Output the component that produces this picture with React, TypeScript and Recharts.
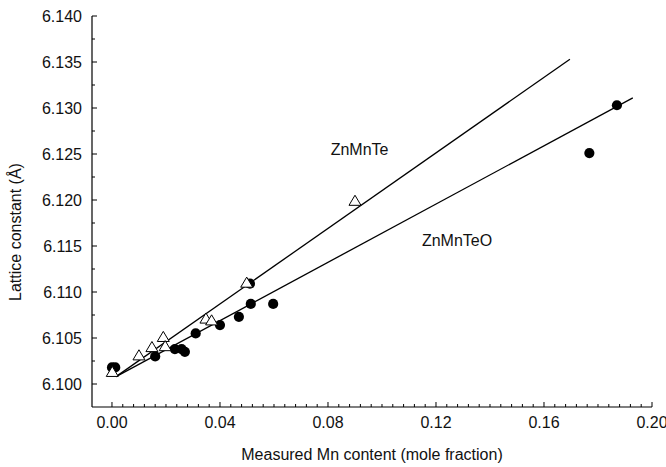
import { ScatterChart, Scatter, XAxis, YAxis, ReferenceDot, Label } from "recharts"

const FONT = '"Liberation Sans", Arial, Helvetica, sans-serif'
const INK = "#111"

// ZnMnTe samples (open triangles)
const teMn = [0.0001, 0.010, 0.0148, 0.019, 0.0197, 0.0348, 0.0369, 0.0499, 0.090]
const teLattice = [6.1013, 6.1031, 6.1040, 6.1051, 6.1041, 6.1071, 6.1069, 6.1110, 6.1199]

// ZnMnTeO samples (filled circles)
const teoMn = [0.0, 0.0012, 0.016, 0.0233, 0.0258, 0.027, 0.031, 0.040, 0.047, 0.0511, 0.0514, 0.0597, 0.1768, 0.187]
const teoLattice = [6.1018, 6.1018, 6.1030, 6.1038, 6.1038, 6.1035, 6.1055, 6.1064, 6.1073, 6.1109, 6.1087, 6.1087, 6.1251, 6.1303]

// linear fits (end points)
const teFitMn = [0.0015, 0.1696]
const teFitLattice = [6.1008, 6.1353]
const teoFitMn = [0.0015, 0.1929]
const teoFitLattice = [6.1008, 6.1311]

// curve labels
const labelText = ["ZnMnTe", "ZnMnTeO"]
const labelMn = [0.0917, 0.1278]
const labelLattice = [6.12555, 6.1156]

// ticks: minor every 0.004 / 0.0025, major every 0.04 / 0.005
const xTicks = Array.from({ length: 51 }, (_, i) => +(i * 0.004).toFixed(3))
const yTicks = Array.from({ length: 17 }, (_, i) => +(6.1 + i * 0.0025).toFixed(4))

const zip = (xs: number[], ys: number[]) => xs.map((x, i) => ({ x, y: ys[i] }))

const teData = zip(teMn, teLattice)
const teoData = zip(teoMn, teoLattice)
const teFit = zip(teFitMn, teFitLattice)
const teoFit = zip(teoFitMn, teoFitLattice)

const tickText = { fontSize: 16, fontFamily: FONT, fill: INK }

const BottomTick = (props: any) => {
  const { x, y, index, payload } = props
  const major = index % 10 === 0
  return (
    <g>
      <line x1={x} x2={x} y1={y} y2={y - (major ? 5 : 3)} stroke="#000" strokeWidth={1} />
      {major && (
        <text x={x} y={y + 21} textAnchor="middle" {...tickText}>
          {payload.value.toFixed(2)}
        </text>
      )}
    </g>
  )
}

const TopTick = (props: any) => {
  const { x, y, index } = props
  const major = index % 10 === 0
  return <line x1={x} x2={x} y1={y} y2={y + (major ? 5 : 3)} stroke="#000" strokeWidth={1} />
}

const LeftTick = (props: any) => {
  const { x, y, index, payload } = props
  const major = index % 2 === 0
  return (
    <g>
      <line x1={x} x2={x + (major ? 5 : 3)} y1={y} y2={y} stroke="#000" strokeWidth={1} />
      {major && (
        <text x={x - 10} y={y + 6} textAnchor="end" {...tickText}>
          {payload.value.toFixed(3)}
        </text>
      )}
    </g>
  )
}

const RightTick = (props: any) => {
  const { x, y, index } = props
  const major = index % 2 === 0
  return <line x1={x} x2={x - (major ? 5 : 3)} y1={y} y2={y} stroke="#000" strokeWidth={1} />
}

const Triangle = (props: any) => {
  const { cx, cy } = props
  return (
    <polygon
      points={`${cx},${cy - 5.7} ${cx - 6},${cy + 4.4} ${cx + 6},${cy + 4.4}`}
      fill="#fff"
      stroke="#000"
      strokeWidth={1}
    />
  )
}

const Dot = (props: any) => <circle cx={props.cx} cy={props.cy} r={5.1} fill="#000" />

const NoMarker = () => <g />

const axisLine = { stroke: "#000", strokeWidth: 1.2 }

export default function App() {
  return (
    <div style={{ position: "absolute", left: 0, top: 0, width: 666, height: 467, background: "#fff" }}>
      <ScatterChart width={666} height={467} margin={{ top: 16, right: 14, bottom: 0, left: 0 }}>
        <XAxis
          type="number"
          dataKey="x"
          domain={[-0.0074, 0.2]}
          allowDataOverflow
          ticks={xTicks}
          interval={0}
          height={60}
          tickSize={0}
          tickMargin={0}
          tickLine={false}
          axisLine={axisLine}
          tick={BottomTick}
        >
          <Label
            value="Measured Mn content (mole fraction)"
            position="insideBottom"
            offset={7}
            fontSize={16}
            fontFamily={FONT}
            fill={INK}
          />
        </XAxis>
        <XAxis
          xAxisId="top"
          orientation="top"
          type="number"
          domain={[-0.0074, 0.2]}
          allowDataOverflow
          ticks={xTicks}
          interval={0}
          height={0}
          tickSize={0}
          tickMargin={0}
          tickLine={false}
          axisLine={axisLine}
          tick={TopTick}
        />
        <YAxis
          type="number"
          dataKey="y"
          domain={[6.0975, 6.14]}
          allowDataOverflow
          ticks={yTicks}
          interval={0}
          width={92}
          tickSize={0}
          tickMargin={0}
          tickLine={false}
          axisLine={axisLine}
          tick={LeftTick}
        >
          <Label
            content={() => (
              <text
                transform="rotate(-90)"
                x={-232}
                y={21}
                textAnchor="middle"
                fontSize={16}
                fontFamily={FONT}
                fill={INK}
              >
                Lattice constant (Å)
              </text>
            )}
          />
        </YAxis>
        <YAxis
          yAxisId="right"
          orientation="right"
          type="number"
          domain={[6.0975, 6.14]}
          allowDataOverflow
          ticks={yTicks}
          interval={0}
          width={0}
          tickSize={0}
          tickMargin={0}
          tickLine={false}
          axisLine={axisLine}
          tick={RightTick}
        />

        <Scatter
          data={teFit}
          line={{ stroke: "#000", strokeWidth: 1.3 }}
          shape={NoMarker}
          isAnimationActive={false}
        />
        <Scatter
          data={teoFit}
          line={{ stroke: "#000", strokeWidth: 1.3 }}
          shape={NoMarker}
          isAnimationActive={false}
        />
        <Scatter data={teoData} shape={Dot} isAnimationActive={false} />
        <Scatter data={teData} shape={Triangle} isAnimationActive={false} />

        {labelText.map((t, i) => (
          <ReferenceDot
            key={t}
            x={labelMn[i]}
            y={labelLattice[i]}
            r={0}
            stroke="none"
            label={{ value: t, position: "center", fontSize: 16, fontFamily: FONT, fill: INK }}
          />
        ))}
      </ScatterChart>
    </div>
  )
}
